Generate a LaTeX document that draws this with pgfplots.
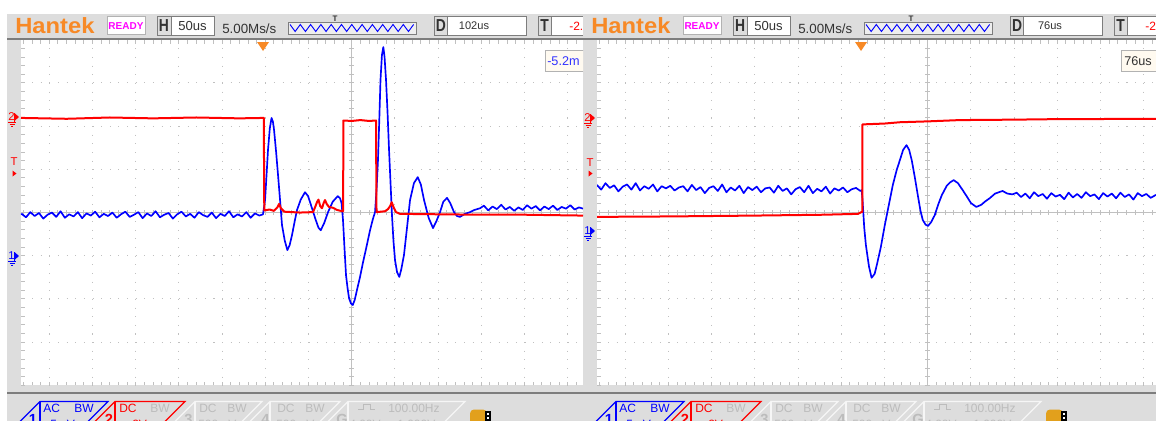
\documentclass[border=0pt]{standalone}
\usepackage{pgfplots}
\pgfplotsset{compat=1.18}
\usepackage{fontspec}
\setmainfont{Liberation Sans}
\definecolor{band}{RGB}{221,221,221}
\definecolor{dline}{RGB}{125,125,125}
\definecolor{gridc}{RGB}{192,192,192}
\definecolor{hant}{RGB}{247,137,38}
\definecolor{ready}{RGB}{255,0,255}
\definecolor{tabgray}{RGB}{188,188,188}
\definecolor{tabline}{RGB}{246,246,246}
\definecolor{cblue}{RGB}{0,0,255}
\definecolor{cred}{RGB}{255,0,0}
\definecolor{curbox}{RGB}{255,250,240}
\definecolor{icon}{RGB}{226,160,28}
\definecolor{txt}{RGB}{50,50,50}
\newcommand\fs[1]{\fontsize{#1}{#1}\selectfont}
\tikzset{px/.style={x=0.75pt,y=-0.75pt}}

\newcommand\panel[2]{%
\begin{scope}[shift={(#1,0)}]
 \fill[band] (7,14) rectangle (620,430);
 \fill[white] (21,40) rectangle (700,385.4);
 \fill[dline] (7,38.3) rectangle (700,39.8);
 \fill[dline] (7,392.3) rectangle (700,394);
 \begin{scope}
  \clip (21,40) rectangle (700,385.4);
  \foreach \k in {-7,...,-1,1,2,3,4,5,6}{\draw[gridc,line width=0.8pt,dash pattern=on 0.8pt off 5.68pt] ({351.7+43.2*\k},39.7) -- ({351.7+43.2*\k},385.4);}
  \foreach \j in {1,2,3,5,6,7}{\draw[gridc,line width=0.8pt,dash pattern=on 0.8pt off 5.68pt] (6.1,{39.7+43.2*\j}) -- (700,{39.7+43.2*\j});}
  \draw[gridc,line width=0.75pt] (351.7,40) -- (351.7,385.4);
  \draw[gridc,line width=0.75pt] (21,212.5) -- (700,212.5);
  \foreach \i in {-40,...,40}{\draw[gridc,line width=0.7pt] ({351.7+8.64*\i},210) -- ++(0,5);
    \draw[gridc,line width=0.7pt] ({351.7+8.64*\i},40) -- ++(0,3.5);
    \draw[gridc,line width=0.7pt] ({351.7+8.64*\i},385.4) -- ++(0,-3.5);}
  \foreach \i in {-20,...,20}{\draw[gridc,line width=0.7pt] (349.2,{212.5+8.64*\i}) -- ++(5,0);
    \draw[gridc,line width=0.7pt] (21,{212.5+8.64*\i}) -- ++(3.5,0);}
 \end{scope}
 % header
 \node[anchor=west,text=hant,font=\fs{16.5}\bfseries,inner sep=0] at (15,25.5) {\scalebox{1.08}[1]{Hantek}};
 \draw[gray!60,fill=white,line width=0.6pt] (107,16.8) rectangle (145,34.5);
 \node[text=ready,font=\fs{7.5}\bfseries] at (126,25.8) {READY};
 \draw[dline,fill=white,line width=0.6pt] (157,16.8) rectangle (214,35);
 \fill[band] (157.5,17.3) rectangle (171,34.5);
 \draw[dline,line width=0.6pt] (171,16.8) -- (171,35);
 \node[font=\fs{13}\bfseries,text=txt] at (164,26) {\scalebox{0.8}[1]{H}};
 \node[font=\fs{9.8},text=txt] at (192.5,26) {50us};
 \node[anchor=base west,font=\fs{10},text=txt,inner sep=0] at (222,33.5) {5.00Ms/s};
 \draw[dline,fill=band!50,line width=0.6pt] (288,22) rectangle (416,34);
 \draw[cblue,line width=0.7pt] (290,24.5) \foreach \i in {0,...,11}{ -- ({290+10.3*\i+5.15},31.5) -- ({290+10.3*\i+10.3},24.5)};
 \node[font=\fs{6}\bfseries,text=txt] at (335,18.5) {T};
 \draw[dline,fill=white,line width=0.6pt] (434,16.8) rectangle (526,35);
 \fill[band] (434.5,17.3) rectangle (447,34.5);
 \draw[dline,line width=0.6pt] (447,16.8) -- (447,35);
 \node[font=\fs{13}\bfseries,text=txt] at (441,26) {\scalebox{0.8}[1]{D}};
 \node[font=\fs{8.3},text=txt] at (474,26) {#2};
 \draw[dline,fill=white,line width=0.6pt] (538,16.8) rectangle (660,35);
 \fill[band] (538.5,17.3) rectangle (551,34.5);
 \draw[dline,line width=0.6pt] (551,16.8) -- (551,35);
 \node[font=\fs{13}\bfseries,text=txt] at (544.5,26) {\scalebox{0.8}[1]{T}};
 \node[anchor=west,font=\fs{9},text=cred,inner sep=0] at (569,26) {-2.};
 % bottom tabs
 \draw[cblue,line width=0.9pt] (15,426.5) -- (40,401.5) -- (108,401.5) -- (83,426.5);
 \draw[cblue,line width=0.9pt] (40,401.5) -- (40,426.5);
 \node[anchor=base west,font=\fs{11}\bfseries,text=cblue,inner sep=0] at (28.5,424) {1};
 \node[anchor=base west,font=\fs{9},text=cblue,inner sep=0] at (43,412.5) {AC};
 \node[anchor=base west,font=\fs{9},text=cblue,inner sep=0] at (74,412.5) {BW};
 \node[anchor=base west,font=\fs{9},text=cblue,inner sep=0] at (50,428) {5mV};
 \draw[cred,line width=0.9pt] (90,426.5) -- (115,401.5) -- (185,401.5) -- (160,426.5);
 \draw[cred,line width=0.9pt] (115,401.5) -- (115,426.5);
 \node[anchor=base west,font=\fs{11}\bfseries,text=cred,inner sep=0] at (104.5,424) {2};
 \node[anchor=base west,font=\fs{9},text=cred,inner sep=0] at (119,412.5) {DC};
 \node[anchor=base west,font=\fs{9},text=tabgray,inner sep=0] at (150,412.5) {BW};
 \node[anchor=base west,font=\fs{9},text=cred,inner sep=0] at (132,428) {2V};
 \draw[tabline,line width=0.9pt] (170,426.5) -- (195,401.5) -- (262,401.5) -- (237,426.5);
 \draw[tabline,line width=0.9pt] (195,401.5) -- (195,426.5);
 \node[anchor=base west,font=\fs{11}\bfseries,text=tabgray,inner sep=0] at (184,424) {3};
 \node[anchor=base west,font=\fs{9},text=tabgray,inner sep=0] at (199,412.5) {DC};
 \node[anchor=base west,font=\fs{9},text=tabgray,inner sep=0] at (227,412.5) {BW};
 \node[anchor=base west,font=\fs{9},text=tabgray,inner sep=0] at (198,428) {500mV};
 \draw[tabline,line width=0.9pt] (245,426.5) -- (270,401.5) -- (340,401.5) -- (315,426.5);
 \draw[tabline,line width=0.9pt] (270,401.5) -- (270,426.5);
 \node[anchor=base west,font=\fs{11}\bfseries,text=tabgray,inner sep=0] at (261,424) {4};
 \node[anchor=base west,font=\fs{9},text=tabgray,inner sep=0] at (277,412.5) {DC};
 \node[anchor=base west,font=\fs{9},text=tabgray,inner sep=0] at (305,412.5) {BW};
 \node[anchor=base west,font=\fs{9},text=tabgray,inner sep=0] at (276,428) {500mV};
 \draw[tabline,line width=0.9pt] (323,426.5) -- (348,401.5) -- (465,401.5) -- (440,426.5);
 \draw[tabline,line width=0.9pt] (348,401.5) -- (348,426.5);
 \node[anchor=base west,font=\fs{11}\bfseries,text=tabgray,inner sep=0] at (336,424) {G};
 \draw[tabgray,line width=0.7pt] (358,409.5) -- (363,409.5) -- (363,404.5) -- (370,404.5) -- (370,409.5) -- (375,409.5);
 \node[anchor=base west,font=\fs{9},text=tabgray,inner sep=0] at (388,412.5) {100.00Hz};
 \node[anchor=base west,font=\fs{9},text=tabgray,inner sep=0] at (349,428) {4.00Vpp 1.000V};
 \fill[icon,rounded corners=3pt] (470,409.5) rectangle (487,426);
 \fill[black] (485,411) rectangle (490.5,421);
 \fill[white] (486.8,412.8) rectangle (488.8,415.2);
 \fill[white] (486.8,416.8) rectangle (488.8,419.2);
\end{scope}}

\newcommand\sidemark[4]{% x, y, label, colour
 \node[font=\fs{8.5},text=#4,inner sep=0] at ({#1+4.5},{#2-1}) {#3};
 \fill[#4] ({#1+8},{#2-4.5}) -- ({#1+12},{#2-1}) -- ({#1+8},{#2+2.5}) -- cycle;
 \draw[#4,line width=0.5pt] ({#1+7.5},{#2-5}) -- ({#1+7.5},{#2+4});
 \draw[#4,line width=0.5pt] ({#1+1},{#2+4.5}) -- ({#1+9},{#2+4.5});
 \draw[#4,line width=0.5pt] ({#1+2.5},{#2+6.5}) -- ({#1+7.5},{#2+6.5});
 \draw[#4,line width=0.5pt] ({#1+4},{#2+8.5}) -- ({#1+6},{#2+8.5});}

\begin{document}
\begin{tikzpicture}
\begin{scope}[px]
\clip (0,0) rectangle (583,421);
\panel{0}{102us}
\end{scope}
\begin{scope}[px]
\clip (583,0) rectangle (1156,421);
\panel{576}{76us}
\end{scope}

% ---- left screen: time in us from screen centre, level in divisions
\begin{axis}[at={(15.75pt,-289.05pt)},anchor=south west,width=421.5pt,height=259.275pt,
  scale only axis,xmin=-382.8,xmax=267.7,ymin=-4,ymax=4,hide axis]
\addplot[cblue,line width=1.25pt,line join=round] coordinates {
(-382.8,-0.05)(-382,-0.03)(-377,-0.11)(-372,0.01)(-367,-0.08)(-362,-0.01)(-357,-0.14)(-352,-0.05)(-347,0.00)
(-342,-0.10)(-337,0.03)(-332,-0.12)(-327,-0.04)(-322,-0.09)(-317,0.01)(-312,-0.13)(-307,-0.02)(-302,-0.07)
(-297,0.02)(-292,-0.11)(-287,-0.03)(-282,-0.08)(-277,0.00)(-272,-0.12)(-267,-0.04)(-262,0.02)(-257,-0.10)
(-252,-0.05)(-247,0.01)(-242,-0.13)(-237,-0.02)(-232,-0.08)(-227,0.03)(-222,-0.11)(-217,-0.05)(-212,-0.01)
(-207,-0.14)(-202,-0.04)(-197,0.02)(-192,-0.09)(-187,-0.03)(-182,-0.12)(-177,0.01)(-172,-0.06)(-167,-0.10)
(-162,0.00)(-157,-0.13)(-152,-0.03)(-147,-0.08)(-142,0.03)(-137,-0.11)(-132,-0.04)(-127,-0.09)(-122,0.01)
(-117,-0.12)(-112,-0.02)(-107,-0.07)(-102.7,-0.04)
(-100.3,0.29)(-98.5,0.90)(-96.9,1.45)(-94.8,1.95)(-92.8,2.19)(-91.2,2.10)(-89.9,1.91)(-87.5,1.40)(-85.3,0.87)
(-83,0.30)(-80.7,-0.29)(-77.5,-0.65)(-74.5,-0.87)(-71.8,-0.75)(-69.1,-0.52)(-66,-0.20)(-63.3,0.06)(-59,0.30)
(-54.1,0.47)(-50.5,0.38)(-47.1,0.17)(-42,-0.15)(-38.5,-0.35)(-35.9,-0.41)(-32,-0.25)(-27.4,0.01)(-22,0.25)
(-16.2,0.38)(-13.5,0.33)(-11.8,0.22)(-10.1,-0.17)(-8.3,-0.85)(-6.6,-1.45)(-4.8,-1.75)(-3.1,-1.98)(-1,-2.10)
(1.2,-2.14)(3.5,-2.02)(6.1,-1.79)(9.5,-1.50)(13.1,-1.15)(17,-0.80)(21.2,-0.41)(24.5,-0.15)(27.0,0.01)
(28.8,0.55)(30.4,1.22)(32,2.20)(33.3,3.07)(35,3.65)(36.6,3.83)(38,3.60)(39.7,3.07)(41.5,2.30)(43.2,1.45)
(45,0.65)(46.6,-0.06)(48.3,-0.65)(50.1,-1.10)(52.5,-1.38)(55.1,-1.49)(57.5,-1.30)(60.5,-0.98)(64,-0.35)
(67.5,0.29)(72,0.68)(76.4,0.82)(80,0.65)(83.7,0.29)(89,-0.12)(94.1,-0.36)(98,-0.20)(102.2,0.01)(106,0.25)
(110.3,0.34)(114,0.22)(118.4,0.01)(121.8,-0.08)(125.3,-0.10)(131,-0.03)(136.9,0.01)(142,0.06)
(148.5,0.10)(153,0.16)(158,0.05)(163,0.14)(168,0.08)(173,0.18)(178,0.07)(183,0.13)(188,0.04)(193,0.12)
(198,0.06)(203,0.17)(208,0.09)(213,0.15)(218,0.05)(223,0.14)(228,0.08)(233,0.16)(238,0.06)(243,0.13)
(248,0.09)(253,0.17)(258,0.07)(263,0.12)(267.7,0.09)};
\addplot[cred,line width=1.5pt,line join=round] coordinates {
(-382.8,2.19)(-330,2.17)(-280,2.20)(-230,2.18)(-180,2.20)(-130,2.18)(-101.8,2.19)
(-101.2,0.05)(-95,0.07)(-90,0.04)(-86,0.12)(-84.1,0.20)(-82,0.10)(-78,0.02)(-60,0.00)(-44.8,0.01)
(-42.5,0.12)(-40,0.25)(-38.5,0.30)(-36.5,0.15)(-34.4,0.10)(-32.5,0.22)(-30.9,0.29)(-29,0.20)(-26.3,0.13)
(-21.6,0.11)(-17,0.06)(-10.6,0.03)(-9.9,0.03)
(-9.7,2.13)(0,2.12)(10,2.14)(20,2.12)(28.1,2.13)
(28.7,0.01)(38.5,0.03)(42,0.08)(44.5,0.15)(46.3,0.24)(48.5,0.12)(51.3,0.01)(55.9,-0.03)(100,-0.04)
(150,-0.05)(200,-0.05)(267.7,-0.07)};
\end{axis}

% ---- right screen
\begin{axis}[at={(447.75pt,-289.05pt)},anchor=south west,width=419.25pt,height=259.275pt,
  scale only axis,xmin=-382.8,xmax=264.2,ymin=-4,ymax=4,hide axis]
\addplot[cblue,line width=1.25pt,line join=round] coordinates {
(-383,0.64)(-378,0.53)(-373,0.68)(-368,0.57)(-363,0.63)(-358,0.49)(-353,0.60)(-348,0.65)(-343,0.53)
(-338,0.68)(-333,0.51)(-328,0.61)(-323,0.55)(-318,0.65)(-313,0.49)(-308,0.61)(-303,0.56)(-298,0.62)
(-293,0.51)(-288,0.58)(-283,0.61)(-278,0.49)(-273,0.64)(-268,0.52)(-263,0.59)(-258,0.45)(-253,0.57)
(-248,0.61)(-243,0.50)(-238,0.65)(-233,0.47)(-228,0.58)(-223,0.51)(-218,0.62)(-213,0.45)(-208,0.59)
(-203,0.52)(-198,0.60)(-193,0.47)(-188,0.56)(-183,0.58)(-178,0.46)(-173,0.62)(-168,0.50)(-163,0.56)
(-158,0.42)(-153,0.54)(-148,0.59)(-143,0.47)(-138,0.62)(-133,0.45)(-128,0.55)(-123,0.49)(-118,0.60)
(-113,0.44)(-108,0.56)(-103,0.51)(-98,0.58)(-93,0.47)(-88,0.54)(-83,0.57)(-78,0.50)(-76.5,0.52)
(-75.5,0.30)(-73.5,-0.35)(-71.6,-0.75)(-68,-1.25)(-65.0,-1.51)(-61.5,-1.42)(-58.9,-1.21)(-54.3,-0.80)
(-49.7,-0.29)(-45,0.18)(-40.4,0.64)(-36,0.98)(-32.3,1.21)(-28.5,1.45)(-24.6,1.56)(-21.5,1.45)(-18.5,1.21)
(-15,0.82)(-11.5,0.40)(-8.5,0.05)(-5.8,-0.17)(-2.5,-0.28)(0.3,-0.31)(4,-0.22)(8.1,-0.06)(12,0.18)
(16.2,0.40)(22,0.62)(26,0.70)(30.0,0.75)(35,0.68)(40.4,0.52)(45,0.38)(50,0.22)(56.2,0.13)(62,0.18)
(66,0.25)(71.6,0.33)(78,0.44)(86.6,0.50)(92,0.44)(98,0.42)
(103,0.46)(108,0.36)(113,0.44)(118,0.33)(123,0.47)(128,0.38)(133,0.43)(138,0.32)(143,0.45)(148,0.37)
(153,0.41)(158,0.31)(163,0.46)(168,0.35)(173,0.43)(178,0.34)(183,0.47)(188,0.38)(193,0.42)(198,0.31)
(203,0.45)(208,0.37)(213,0.44)(218,0.33)(223,0.46)(228,0.36)(233,0.42)(238,0.30)(243,0.45)(248,0.38)
(253,0.43)(258,0.34)(264.2,0.41)};
\addplot[cred,line width=1.5pt,line join=round] coordinates {
(-383,-0.10)(-300,-0.09)(-200,-0.07)(-120,-0.05)(-80.8,-0.03)(-76.8,0.01)(-75.8,0.01)
(-75.6,2.04)(-50,2.06)(-32.3,2.09)(0,2.11)(37,2.14)(100,2.15)(140.9,2.16)(264.2,2.17)};
\end{axis}

% ---- overlays
\begin{scope}[px]
\fill[hant] (257,42) -- (269,42) -- (263,51) -- cycle;
\fill[hant] (855,42) -- (867,42) -- (861,51) -- cycle;
\sidemark{7}{118}{2}{cred}
\sidemark{7}{257}{1}{cblue}
\node[font=\fs{8.5},text=cred,inner sep=0] at (14,162) {T};
\fill[cred] (12.5,170.5) -- (16.5,173.5) -- (12.5,176.5) -- cycle;
\begin{scope}
\clip (583,0) rectangle (1156,421);
\sidemark{583}{119}{2}{cred}
\sidemark{583}{232}{1}{cblue}
\node[font=\fs{8.5},text=cred,inner sep=0] at (590,163) {T};
\fill[cred] (588.5,170.5) -- (592.5,173.5) -- (588.5,176.5) -- cycle;
\end{scope}
\begin{scope}
\clip (0,0) rectangle (583,421);
\draw[gray!60,fill=curbox,line width=0.6pt] (545,50.7) rectangle (620,71.7);
\node[anchor=west,font=\fs{9.5},text=cblue!80,inner sep=0] at (547,61.5) {-5.2m};
\end{scope}
\begin{scope}
\clip (583,0) rectangle (1156,421);
\draw[gray!60,fill=curbox,line width=0.6pt] (1121.7,50.2) rectangle (1190,71.7);
\node[anchor=west,font=\fs{9.5},text=txt,inner sep=0] at (1124,61.5) {76us};
\end{scope}
\end{scope}
\pgfresetboundingbox
\path[px] (0,0) rectangle (1156,421);
\end{tikzpicture}
\end{document}
